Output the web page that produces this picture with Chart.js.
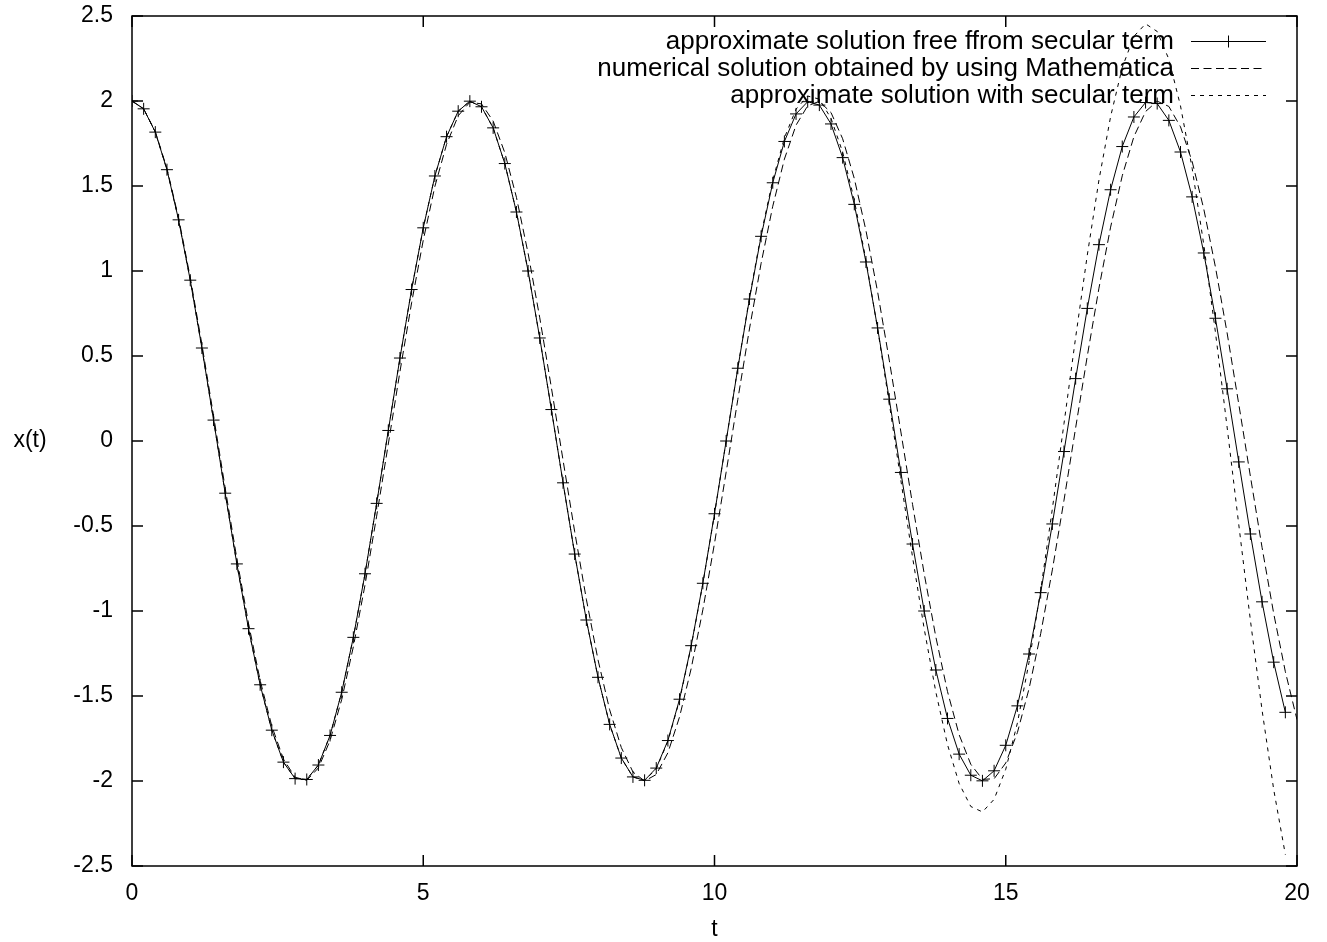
<!DOCTYPE html>
<html lang="en">
<head>
<meta charset="UTF-8">
<title>x(t)</title>
<script src="https://cdn.jsdelivr.net/npm/chart.js@4"></script>
<style>
  body { margin: 0; background: #fff; }
  #wrap { width: 1327px; height: 942px; }
</style>
</head>
<body>
<div id="wrap"><canvas id="plot"></canvas></div>
<script>
// sample times (t)
const tGrid = [
  0.0, 0.2, 0.4, 0.6, 0.8, 1.0, 1.2, 1.4, 1.6, 1.8,
  2.0, 2.2, 2.4, 2.6, 2.8, 3.0, 3.2, 3.4, 3.6, 3.8,
  4.0, 4.2, 4.4, 4.6, 4.8, 5.0, 5.2, 5.4, 5.6, 5.8,
  6.0, 6.2, 6.4, 6.6, 6.8, 7.0, 7.2, 7.4, 7.6, 7.8,
  8.0, 8.2, 8.4, 8.6, 8.8, 9.0, 9.2, 9.4, 9.6, 9.8,
  10.0, 10.2, 10.4, 10.6, 10.8, 11.0, 11.2, 11.4, 11.6, 11.8,
  12.0, 12.2, 12.4, 12.6, 12.8, 13.0, 13.2, 13.4, 13.6, 13.8,
  14.0, 14.2, 14.4, 14.6, 14.8, 15.0, 15.2, 15.4, 15.6, 15.8,
  16.0, 16.2, 16.4, 16.6, 16.8, 17.0, 17.2, 17.4, 17.6, 17.8,
  18.0, 18.2, 18.4, 18.6, 18.8, 19.0, 19.2, 19.4, 19.6, 19.8,
  20.0
];

// approximate solution free from secular term (with + marks)
const freeSecular = [
  2.000, 1.954, 1.817, 1.596, 1.301, 0.946, 0.547, 0.123, -0.307, -0.723,
  -1.104, -1.434, -1.701, -1.889, -1.986, -1.991, -1.906, -1.732, -1.478, -1.155,
  -0.781, -0.367, 0.062, 0.488, 0.891, 1.254, 1.559, 1.790, 1.940, 1.999,
  1.966, 1.842, 1.632, 1.347, 1.000, 0.606, 0.185, -0.246, -0.665, -1.053,
  -1.390, -1.667, -1.865, -1.976, -1.996, -1.924, -1.762, -1.519, -1.204, -0.837,
  -0.428, 0.000, 0.428, 0.835, 1.204, 1.519, 1.762, 1.924, 1.996, 1.976,
  1.865, 1.667, 1.392, 1.053, 0.665, 0.246, -0.185, -0.606, -1.000, -1.347,
  -1.632, -1.842, -1.966, -1.999, -1.940, -1.790, -1.558, -1.253, -0.892, -0.488,
  -0.062, 0.367, 0.780, 1.155, 1.478, 1.732, 1.906, 1.991, 1.985, 1.886,
  1.700, 1.436, 1.106, 0.722, 0.307, -0.123, -0.547, -0.946, -1.301, -1.596
];

// numerical solution (Mathematica), runs to t = 20
const numerical = [
  2.000, 1.954, 1.820, 1.603, 1.312, 0.962, 0.568, 0.148, -0.278, -0.692,
  -1.073, -1.408, -1.677, -1.871, -1.978, -1.996, -1.923, -1.762, -1.521, -1.210,
  -0.847, -0.442, -0.018, 0.408, 0.813, 1.181, 1.498, 1.745, 1.913, 1.993,
  1.983, 1.882, 1.696, 1.433, 1.104, 0.725, 0.313, -0.113, -0.534, -0.931,
  -1.287, -1.581, -1.803, -1.947, -2.000, -1.962, -1.834, -1.623, -1.338, -0.993,
  -0.602, -0.183, 0.244, 0.659, 1.045, 1.381, 1.658, 1.858, 1.972, 1.998,
  1.932, 1.778, 1.544, 1.238, 0.878, 0.476, 0.053, -0.373, -0.781, -1.153,
  -1.474, -1.728, -1.902, -1.990, -1.987, -1.894, -1.715, -1.457, -1.133, -0.758,
  -0.348, 0.078, 0.500, 0.899, 1.258, 1.560, 1.790, 1.938, 1.999, 1.968,
  1.848, 1.644, 1.364, 1.023, 0.636, 0.218, -0.208, -0.626, -1.015, -1.357,
  -1.639
];

// approximate solution with secular term (grows at late t)
const withSecular = [
  2.000, 1.954, 1.817, 1.596, 1.301, 0.946, 0.547, 0.123, -0.307, -0.723,
  -1.104, -1.434, -1.701, -1.889, -1.986, -1.991, -1.906, -1.732, -1.478, -1.155,
  -0.781, -0.367, 0.062, 0.488, 0.891, 1.254, 1.559, 1.790, 1.940, 1.999,
  1.966, 1.842, 1.632, 1.347, 1.000, 0.606, 0.185, -0.246, -0.665, -1.053,
  -1.390, -1.667, -1.865, -1.976, -1.998, -1.928, -1.767, -1.524, -1.208, -0.840,
  -0.430, 0.000, 0.431, 0.842, 1.215, 1.534, 1.783, 1.952, 2.029, 2.011,
  1.898, 1.699, 1.417, 1.065, 0.661, 0.222, -0.233, -0.683, -1.105, -1.477,
  -1.786, -2.015, -2.150, -2.182, -2.108, -1.931, -1.659, -1.301, -0.877, -0.399,
  0.103, 0.610, 1.094, 1.535, 1.908, 2.197, 2.380, 2.454, 2.409, 2.246,
  1.971, 1.604, 1.154, 0.639, 0.082, -0.491, -1.055, -1.583, -2.050, -2.433
];

const xTicks = [0, 5, 10, 15, 20];
const yTicks = [-2.5, -2, -1.5, -1, -0.5, 0, 0.5, 1, 1.5, 2, 2.5];
const seriesLabels = [
  'approximate solution free ffrom secular term',
  'numerical solution obtained by using Mathematica',
  'approximate solution with secular term'
];
const xTitle = 't';
const yTitle = 'x(t)';

const FAMILY = '"Liberation Sans", Arial, sans-serif';
const dashes = [[], [8, 4.5], [4, 5]];

function pairs(vals) {
  return vals.map((v, i) => ({ x: tGrid[i], y: v }));
}

// gnuplot look: frame, inward ticks on all sides, horizontal axis titles, legend at top right
const gnuplotFrame = {
  id: 'gnuplotFrame',
  afterDraw(chart) {
    const ctx = chart.ctx;
    const a = chart.chartArea;
    const xs = chart.scales.x, ys = chart.scales.y;
    ctx.save();
    ctx.strokeStyle = '#000';
    ctx.lineWidth = 1.5;
    ctx.setLineDash([]);
    ctx.strokeRect(a.left, a.top, a.right - a.left, a.bottom - a.top);
    const tl = 11;
    ctx.beginPath();
    xTicks.forEach(v => {
      const px = xs.getPixelForValue(v);
      ctx.moveTo(px, a.bottom); ctx.lineTo(px, a.bottom - tl);
      ctx.moveTo(px, a.top); ctx.lineTo(px, a.top + tl);
    });
    yTicks.forEach(v => {
      const py = ys.getPixelForValue(v);
      ctx.moveTo(a.left, py); ctx.lineTo(a.left + tl, py);
      ctx.moveTo(a.right, py); ctx.lineTo(a.right - tl, py);
    });
    ctx.stroke();

    ctx.fillStyle = '#000';
    ctx.font = '23px ' + FAMILY;
    ctx.textAlign = 'center';
    ctx.textBaseline = 'middle';
    ctx.fillText(xTitle, (a.left + a.right) / 2, 930);
    ctx.fillText(yTitle, 30, (a.top + a.bottom) / 2);

    // legend
    const textRight = 1174, lineL = 1191, lineR = 1266;
    const rows = [41.5, 68.5, 95.5];
    ctx.font = '26px ' + FAMILY;
    ctx.textAlign = 'right';
    ctx.lineWidth = 1;
    seriesLabels.forEach((lab, i) => {
      const y = rows[i];
      ctx.fillText(lab, textRight, y);
      ctx.setLineDash(dashes[i]);
      ctx.beginPath();
      ctx.moveTo(lineL, y); ctx.lineTo(lineR, y);
      ctx.stroke();
      if (i === 0) {
        ctx.setLineDash([]);
        const cx = (lineL + lineR) / 2;
        ctx.beginPath();
        ctx.moveTo(cx - 6, y); ctx.lineTo(cx + 6, y);
        ctx.moveTo(cx, y - 6); ctx.lineTo(cx, y + 6);
        ctx.stroke();
      }
    });
    ctx.restore();
  }
};

new Chart(document.getElementById('plot'), {
  type: 'line',
  data: {
    datasets: [
      {
        label: seriesLabels[0],
        data: pairs(freeSecular),
        borderColor: '#000',
        borderWidth: 1,
        pointStyle: 'cross',
        pointRadius: 6,
        pointBorderColor: '#000',
        pointBorderWidth: 1,
        tension: 0
      },
      {
        label: seriesLabels[1],
        data: pairs(numerical),
        borderColor: '#000',
        borderWidth: 1,
        borderDash: dashes[1],
        pointRadius: 0,
        tension: 0
      },
      {
        label: seriesLabels[2],
        data: pairs(withSecular),
        borderColor: '#000',
        borderWidth: 1,
        borderDash: dashes[2],
        pointRadius: 0,
        tension: 0
      }
    ]
  },
  options: {
    responsive: true,
    maintainAspectRatio: false,
    animation: false,
    layout: { padding: { top: 16, right: 30, left: 0, bottom: 0 } },
    plugins: {
      legend: { display: false },
      tooltip: { enabled: false }
    },
    scales: {
      x: {
        type: 'linear',
        min: 0, max: 20,
        grid: { display: false, drawTicks: false },
        border: { display: false },
        afterBuildTicks: s => { s.ticks = xTicks.map(v => ({ value: v })); },
        afterFit: s => { s.height = 76; s.paddingLeft = 0; s.paddingRight = 0; },
        ticks: {
          color: '#000',
          font: { family: FAMILY, size: 23 },
          padding: 14,
          maxRotation: 0,
          callback: v => String(v)
        }
      },
      y: {
        type: 'linear',
        min: -2.5, max: 2.5,
        grid: { display: false, drawTicks: false },
        border: { display: false },
        afterBuildTicks: s => { s.ticks = yTicks.map(v => ({ value: v })); },
        afterFit: s => { s.width = 132; s.paddingTop = 0; s.paddingBottom = 0; },
        ticks: {
          color: '#000',
          font: { family: FAMILY, size: 23 },
          padding: 19,
          callback: v => String(v)
        }
      }
    }
  },
  plugins: [gnuplotFrame]
});
</script>
</body>
</html>
